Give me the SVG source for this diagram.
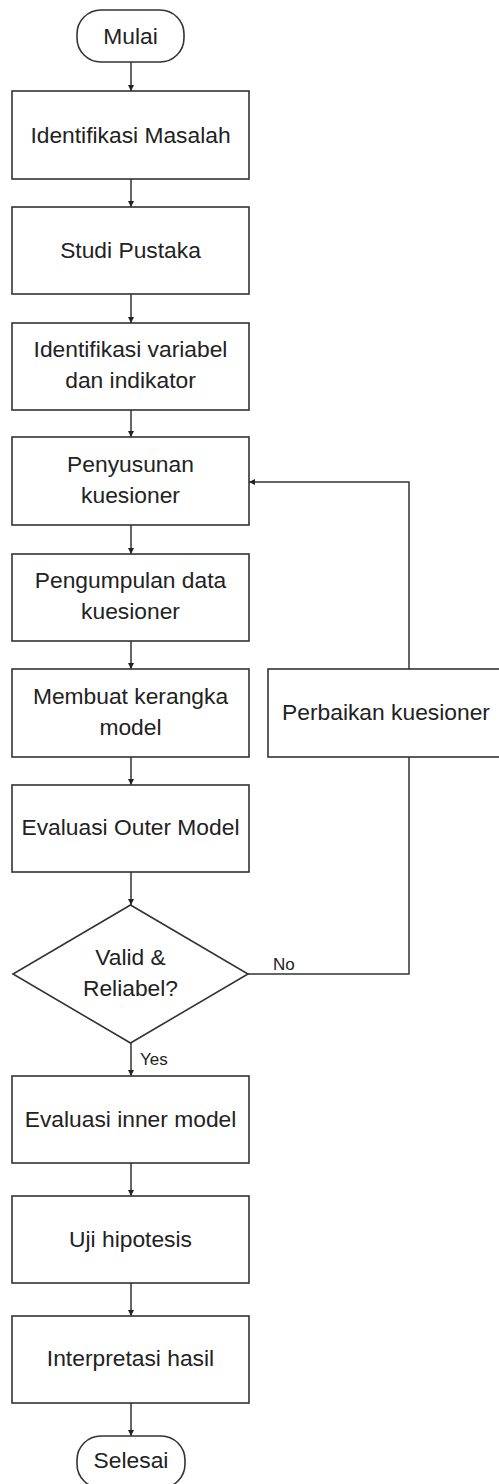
<svg xmlns="http://www.w3.org/2000/svg" width="499" height="1484" viewBox="0 0 499 1484">
<style>
.box{fill:#fff;stroke:#333;stroke-width:1.6}
.t{font-family:"Liberation Sans",Arial,sans-serif;font-size:22.8px;fill:#222;text-anchor:middle;dominant-baseline:central}
.l{font-family:"Liberation Sans",Arial,sans-serif;font-size:17px;fill:#222;dominant-baseline:central}
.c{fill:none;stroke:#333;stroke-width:1.5}
</style>
<defs>
<marker id="ah" viewBox="0 0 10 10" refX="10" refY="5" markerWidth="6" markerHeight="6" markerUnits="userSpaceOnUse" orient="auto">
<path d="M0,0 L10,5 L0,10 z" fill="#222"/>
</marker>
</defs>
<rect width="499" height="1484" fill="#fff"/>
<g id="connectors">
<line class="c" x1="131" y1="62" x2="131" y2="91" marker-end="url(#ah)"/>
<line class="c" x1="131" y1="179" x2="131" y2="207" marker-end="url(#ah)"/>
<line class="c" x1="131" y1="294" x2="131" y2="323" marker-end="url(#ah)"/>
<line class="c" x1="131" y1="410" x2="131" y2="437" marker-end="url(#ah)"/>
<line class="c" x1="131" y1="525" x2="131" y2="554" marker-end="url(#ah)"/>
<line class="c" x1="131" y1="641" x2="131" y2="669" marker-end="url(#ah)"/>
<line class="c" x1="131" y1="757" x2="131" y2="785" marker-end="url(#ah)"/>
<line class="c" x1="131" y1="872" x2="131" y2="905" marker-end="url(#ah)"/>
<line class="c" x1="131" y1="1043" x2="131" y2="1076" marker-end="url(#ah)"/>
<line class="c" x1="131" y1="1163" x2="131" y2="1196" marker-end="url(#ah)"/>
<line class="c" x1="131" y1="1283" x2="131" y2="1316" marker-end="url(#ah)"/>
<line class="c" x1="131" y1="1403" x2="131" y2="1436" marker-end="url(#ah)"/>
<polyline class="c" points="248,974 409,974 409,757"/>
<polyline class="c" points="409,669 409,482 249,482" marker-end="url(#ah)"/>
<text class="l" x="273" y="964">No</text>
<text class="l" x="140" y="1059">Yes</text>
</g>
<g id="mulai">
<rect class="box" x="77" y="10" width="107" height="52" rx="24" ry="24"/>
<text class="t" x="130.5" y="36">Mulai</text>
</g>
<g id="identifikasi-masalah">
<rect class="box" x="12" y="91" width="237" height="88"/>
<text class="t" x="130.5" y="135">Identifikasi Masalah</text>
</g>
<g id="studi-pustaka">
<rect class="box" x="12" y="207" width="237" height="87"/>
<text class="t" x="130.5" y="250">Studi Pustaka</text>
</g>
<g id="identifikasi-variabel">
<rect class="box" x="12" y="323" width="237" height="87"/>
<text class="t" x="130.5" y="349">Identifikasi variabel</text>
<text class="t" x="130.5" y="380">dan indikator</text>
</g>
<g id="penyusunan">
<rect class="box" x="12" y="437" width="237" height="88"/>
<text class="t" x="130.5" y="464">Penyusunan</text>
<text class="t" x="130.5" y="495">kuesioner</text>
</g>
<g id="pengumpulan">
<rect class="box" x="12" y="554" width="237" height="87"/>
<text class="t" x="130.5" y="580">Pengumpulan data</text>
<text class="t" x="130.5" y="611">kuesioner</text>
</g>
<g id="kerangka">
<rect class="box" x="12" y="669" width="237" height="88"/>
<text class="t" x="130.5" y="696">Membuat kerangka</text>
<text class="t" x="130.5" y="727">model</text>
</g>
<g id="perbaikan">
<rect class="box" x="268" y="669" width="236" height="88"/>
<text class="t" x="386" y="712">Perbaikan kuesioner</text>
</g>
<g id="outer-model">
<rect class="box" x="12" y="785" width="237" height="87"/>
<text class="t" x="130.5" y="827">Evaluasi Outer Model</text>
</g>
<g id="valid-reliabel">
<polygon class="box" points="130.5,905 248,974 130.5,1043 13,974"/>
<text class="t" x="130.5" y="957">Valid &amp;</text>
<text class="t" x="130.5" y="988">Reliabel?</text>
</g>
<g id="inner-model">
<rect class="box" x="12" y="1076" width="237" height="87"/>
<text class="t" x="130.5" y="1119">Evaluasi inner model</text>
</g>
<g id="uji-hipotesis">
<rect class="box" x="12" y="1196" width="237" height="87"/>
<text class="t" x="130.5" y="1239">Uji hipotesis</text>
</g>
<g id="interpretasi">
<rect class="box" x="12" y="1316" width="237" height="87"/>
<text class="t" x="130.5" y="1358">Interpretasi hasil</text>
</g>
<g id="selesai">
<rect class="box" x="77" y="1436" width="108" height="52" rx="24" ry="24"/>
<text class="t" x="131" y="1460">Selesai</text>
</g>
</svg>
